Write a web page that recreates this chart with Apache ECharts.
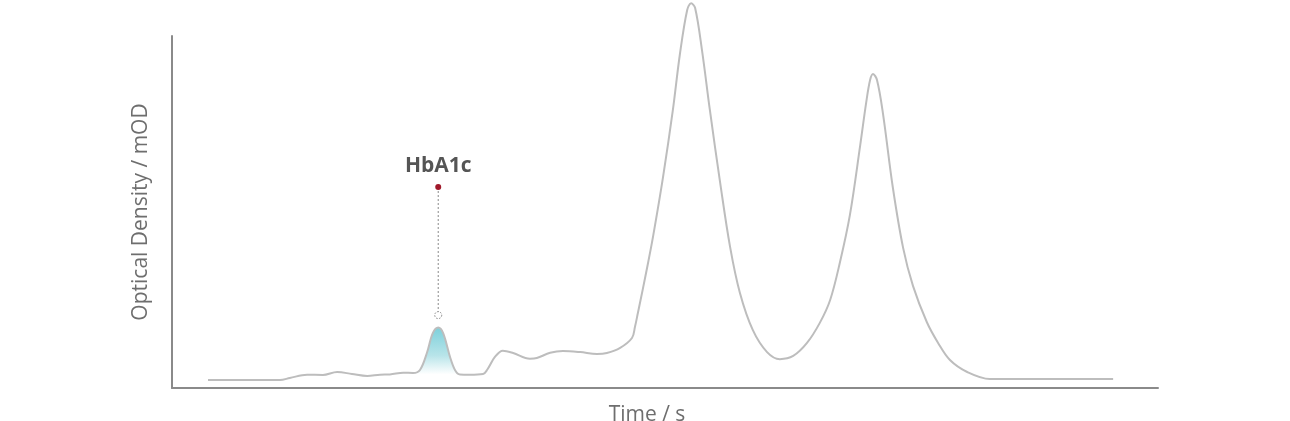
<!DOCTYPE html>
<html>
<head>
<meta charset="utf-8">
<script src="https://cdn.jsdelivr.net/npm/echarts@6/dist/echarts.min.js"></script>
<style>html,body{margin:0;padding:0;background:#fff}#chart{width:1290px;height:421px}</style>
</head>
<body>
<div id="chart"></div>
<script>
// Chromatogram trace: time (s) and optical density (mOD)
var times = [7.3, 21.9, 23.9, 27.4, 30.6, 33.5, 36.5, 39.6, 42.2, 44.2, 46.9, 48.9, 50.3, 51.7, 52.9, 54.0, 55.0, 56.4, 57.4, 58.4, 60.4, 63.1, 63.9, 65.5, 67.1, 69.2, 72.6, 74.0, 76.7, 79.3, 82.8, 86.2, 88.2, 90.9, 93.3, 93.9, 94.5, 95.5, 96.6, 97.6, 99.6, 101.6, 103.0, 104.5, 105.3, 106.1, 107.5, 109.1, 111.2, 113.2, 115.2, 117.8, 120.7, 123.3, 126.0, 128.8, 131.4, 133.5, 135.5, 137.5, 139.6, 140.8, 141.6, 142.2, 143.0, 144.2, 146.2, 148.3, 150.3, 153.1, 155.4, 157.8, 161.3, 165.9, 190.9];
var density = [2.27, 2.27, 2.84, 3.78, 3.69, 4.55, 3.98, 3.41, 3.78, 3.84, 4.35, 4.26, 5.11, 9.94, 15.6, 17.2, 15.6, 8.81, 5.11, 3.84, 3.78, 3.98, 5.11, 8.81, 10.6, 9.94, 8.32, 8.52, 10.0, 10.5, 10.2, 9.66, 9.94, 11.4, 14.2, 17.3, 21.3, 28.1, 35.8, 43.2, 59.9, 79.0, 94.6, 107.4, 109.3, 108.0, 96.0, 79.0, 58.2, 40.1, 27.0, 16.5, 10.2, 8.2, 9.1, 12.8, 18.5, 25.0, 35.8, 49.1, 69.0, 81.0, 87.5, 89.2, 87.5, 78.1, 57.1, 39.8, 29.0, 18.75, 12.8, 7.95, 4.55, 2.56, 2.56];
// HbA1c peak (highlighted)
var peakTimes = [48.9, 50.3, 51.7, 52.9, 54.0, 55.0, 56.4, 57.4, 58.4];
var peakDensity = [4.26, 5.11, 9.94, 15.6, 17.2, 15.6, 8.81, 5.11, 3.84];
var peakBaseline = 3.9;
// Annotation
var labelName = 'HbA1c';
var labelTime = 54.0;
var labelTop = 57.1;
var labelBottom = 20.7;

function pairs(xs, ys) { return xs.map(function (x, i) { return [x, ys[i]]; }); }

var chart = echarts.init(document.getElementById('chart'), null, { renderer: 'canvas' });
chart.setOption({
  animation: false,
  backgroundColor: '#ffffff',
  grid: { left: 172, right: 132, top: 36, bottom: 33, outerBoundsMode: 'none', containLabel: false },
  xAxis: {
    type: 'value', min: 0, max: 200,
    name: 'Time / s', nameLocation: 'middle', nameGap: 17,
    nameTextStyle: { fontFamily: 'Open Sans', fontSize: 21, color: '#6e6e6e', padding: [0, 36, 0, 0] },
    axisLine: { show: true, lineStyle: { color: '#8a8a8a', width: 2 } },
    axisTick: { show: false }, axisLabel: { show: false }, splitLine: { show: false }
  },
  yAxis: {
    type: 'value', min: 0, max: 100,
    name: 'Optical Density / mOD', nameLocation: 'middle', nameGap: 20,
    nameTextStyle: { fontFamily: 'Open Sans', fontSize: 21, color: '#6e6e6e' },
    axisLine: { show: true, lineStyle: { color: '#8a8a8a', width: 2 } },
    axisTick: { show: false }, axisLabel: { show: false }, splitLine: { show: false }
  },
  series: [
    {
      type: 'line', data: pairs(peakTimes, peakDensity), smooth: 0.35, showSymbol: false, clip: false, z: 1,
      lineStyle: { width: 0 },
      areaStyle: {
        origin: peakBaseline,
        color: { type: 'linear', x: 0, y: 0, x2: 0, y2: 1, colorStops: [
          { offset: 0, color: '#45bccb' }, { offset: 0.6, color: '#9ad9e0' }, { offset: 1, color: 'rgba(255,255,255,0.95)' } ] }
      }
    },
    {
      type: 'line', data: pairs(times, density), smooth: 0.35, showSymbol: false, clip: false, z: 2,
      lineStyle: { color: '#bdbdbd', width: 2 }
    },
    {
      type: 'line', clip: false, z: 3,
      lineStyle: { color: '#8a8a8a', width: 1, type: [2, 2] },
      data: [
        { value: [labelTime, labelTop], symbol: 'circle', symbolSize: 6,
          itemStyle: { color: '#a0182a', borderWidth: 0 },
          label: { show: true, position: 'top', distance: 7, formatter: labelName,
            fontFamily: 'Open Sans', fontWeight: 'bold', fontSize: 21, color: '#555555' } },
        { value: [labelTime, labelBottom], symbol: 'circle', symbolSize: 7,
          itemStyle: { color: '#ffffff', borderColor: '#888888', borderWidth: 1, borderType: [1.5, 1.5] } }
      ]
    }
  ]
});
</script>
</body>
</html>
